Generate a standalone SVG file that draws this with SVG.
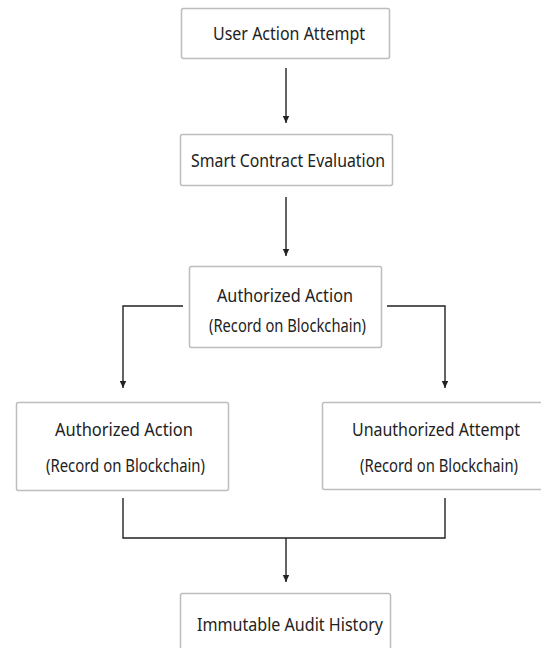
<svg xmlns="http://www.w3.org/2000/svg" width="541" height="648" viewBox="0 0 541 648">
<defs>
<marker id="ah" markerWidth="8" markerHeight="8" refX="7" refY="4" orient="auto" markerUnits="userSpaceOnUse">
<path d="M0,0.8 L7,4 L0,7.2 Z" fill="#222"/>
</marker>
<style>
.box{fill:#fff;stroke:#bdbdbd;stroke-width:1.5}
.t{font-family:"Noto Sans","Open Sans",sans-serif;font-size:18.5px;fill:#222;text-anchor:middle}
.ln{fill:none;stroke:#222;stroke-width:1.4}
</style>
</defs>
<rect width="541" height="648" fill="#fff"/>
<g id="n1"><rect class="box" x="181.5" y="8.5" width="208" height="50" rx="2"/>
<text class="t" x="289" y="39.5" textLength="152" lengthAdjust="spacingAndGlyphs">User Action Attempt</text></g>
<g id="n2"><rect class="box" x="180.5" y="134.5" width="212" height="51" rx="2"/>
<text class="t" x="288" y="166.5" textLength="194" lengthAdjust="spacingAndGlyphs">Smart Contract Evaluation</text></g>
<g id="n3"><rect class="box" x="189.5" y="266.5" width="192" height="81" rx="2"/>
<text class="t" x="285" y="301.5" textLength="136" lengthAdjust="spacingAndGlyphs">Authorized Action</text>
<text class="t" x="287.5" y="331.5" textLength="157" lengthAdjust="spacingAndGlyphs">(Record on Blockchain)</text></g>
<g id="n4"><rect class="box" x="16.5" y="402.5" width="212" height="88" rx="2"/>
<text class="t" x="124" y="435.5" textLength="138" lengthAdjust="spacingAndGlyphs">Authorized Action</text>
<text class="t" x="125.5" y="471.5" textLength="159" lengthAdjust="spacingAndGlyphs">(Record on Blockchain)</text></g>
<g id="n5"><rect class="box" x="322.5" y="402.5" width="222" height="87" rx="2"/>
<text class="t" x="436" y="435.5" textLength="168" lengthAdjust="spacingAndGlyphs">Unauthorized Attempt</text>
<text class="t" x="439" y="471.5" textLength="158" lengthAdjust="spacingAndGlyphs">(Record on Blockchain)</text></g>
<g id="n6"><rect class="box" x="180.5" y="593.5" width="210" height="60" rx="2"/>
<text class="t" x="290" y="630.5" textLength="186" lengthAdjust="spacingAndGlyphs">Immutable Audit History</text></g>
<g id="connectors">
<path class="ln" d="M286,68 V123" marker-end="url(#ah)"/>
<path class="ln" d="M286,197 V256" marker-end="url(#ah)"/>
<path class="ln" d="M183,306 H123 V388" marker-end="url(#ah)"/>
<path class="ln" d="M387,306 H445 V388" marker-end="url(#ah)"/>
<path class="ln" d="M123,498 V538 H445 V498"/>
<path class="ln" d="M286,538 V582" marker-end="url(#ah)"/>
</g>
</svg>
